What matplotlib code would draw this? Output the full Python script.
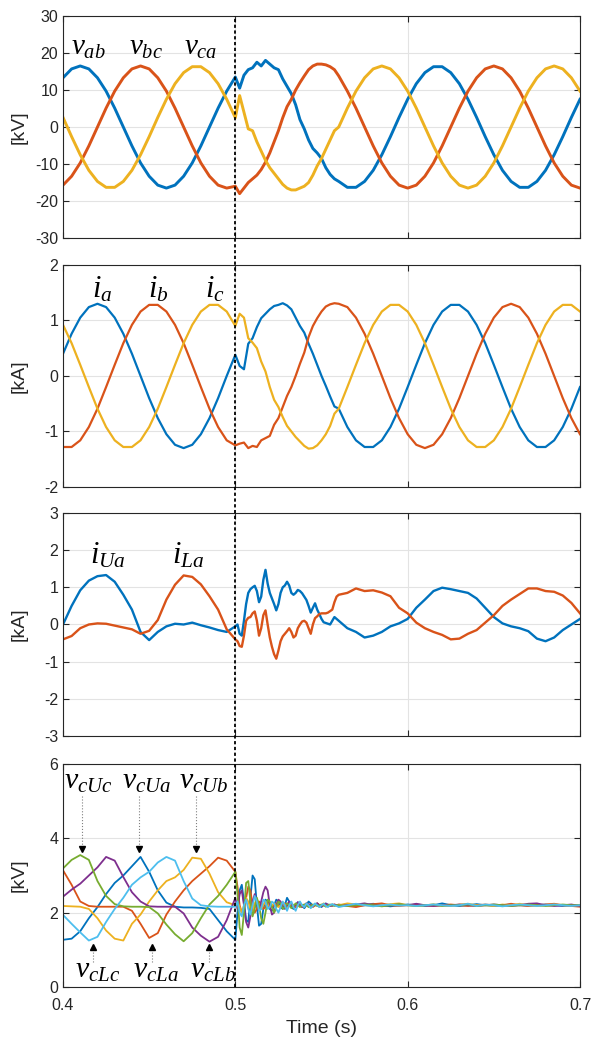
import numpy as np
import matplotlib.pyplot as plt
from matplotlib.lines import Line2D

# time grids [s]; finer sampling around the fault at t = 0.5 s
t_pre = 0.400 + 0.005 * np.arange(20)
t_fast = 0.500 + 0.0025 * np.arange(24)
t_fine = 0.500 + 0.00125 * np.arange(48)
t_post = 0.560 + 0.005 * np.arange(29)

# ---- line-to-line voltages [kV]
vab_pre = [13.3, 15.7, 16.5, 15.7, 13.3, 9.7, 5.1, 0.0, -5.1, -9.7, -13.3, -15.7, -16.5, -15.7, -13.3, -9.7, -5.1, 0.0, 5.1, 9.7]
vab_fast = [13.5, 10.5, 14.0, 15.5, 16.0, 17.5, 16.5, 18.0, 17.0, 16.0, 15.5, 13.0, 11.0, 9.0, 6.0, 2.0, -0.5, -3.5, -5.8, -7.0, -8.5, -11.0, -12.8, -14.0]
vab_post = [-14.7, -16.3, -16.3, -14.7, -11.7, -7.5, -2.6, 2.6, 7.5, 11.7, 14.7, 16.3, 16.3, 14.7, 11.7, 7.5, 2.6, -2.6, -7.5, -11.7, -14.7, -16.3, -16.3, -14.7, -11.7, -7.5, -2.6, 2.6, 7.5]
vbc_pre = [-15.7, -13.3, -9.7, -5.1, 0.0, 5.1, 9.7, 13.3, 15.7, 16.5, 15.7, 13.3, 9.7, 5.1, 0.0, -5.1, -9.7, -13.3, -15.7, -16.5]
vbc_fast = [-16.0, -18.0, -16.5, -15.0, -14.0, -13.0, -11.5, -9.5, -7.0, -4.0, -1.0, 2.5, 5.5, 7.5, 10.0, 12.0, 13.8, 15.5, 16.5, 17.0, 17.0, 16.8, 16.3, 15.5]
vbc_post = [13.8, 9.7, 5.1, 0.0, -5.1, -9.7, -13.3, -15.7, -16.5, -15.7, -13.3, -9.7, -5.1, 0.0, 5.1, 9.7, 13.3, 15.7, 16.5, 15.7, 13.3, 9.7, 5.1, 0.0, -5.1, -9.7, -13.3, -15.7, -16.5]
vca_pre = [2.6, -2.6, -7.5, -11.7, -14.7, -16.3, -16.3, -14.7, -11.7, -7.5, -2.6, 2.6, 7.5, 11.7, 14.7, 16.3, 16.3, 14.7, 11.7, 7.5]
vca_fast = [2.5, 8.5, 4.0, -0.5, -1.0, -4.0, -6.5, -9.0, -11.0, -12.5, -14.0, -15.5, -16.5, -17.0, -17.0, -16.5, -16.0, -15.0, -13.0, -10.5, -8.5, -6.0, -3.5, -1.0]
vca_post = [0.0, 5.1, 9.7, 13.3, 15.7, 16.5, 15.7, 13.3, 9.7, 5.1, 0.0, -5.1, -9.7, -13.3, -15.7, -16.5, -15.7, -13.3, -9.7, -5.1, 0.0, 5.1, 9.7, 13.3, 15.7, 16.5, 15.7, 13.3, 9.7]

# ---- phase currents [kA]
ia_pre = [0.40, 0.76, 1.05, 1.24, 1.30, 1.24, 1.05, 0.76, 0.40, 0.00, -0.40, -0.76, -1.05, -1.24, -1.30, -1.24, -1.05, -0.76, -0.40, 0.00]
ia_fast = [0.38, 0.18, 0.12, 0.58, 0.68, 0.88, 1.04, 1.12, 1.20, 1.26, 1.28, 1.31, 1.27, 1.20, 1.05, 0.90, 0.78, 0.58, 0.40, 0.20, 0.00, -0.18, -0.37, -0.55]
ia_post = [-0.59, -0.92, -1.16, -1.28, -1.28, -1.16, -0.92, -0.59, -0.20, 0.20, 0.59, 0.92, 1.16, 1.28, 1.28, 1.16, 0.92, 0.59, 0.20, -0.20, -0.59, -0.92, -1.16, -1.28, -1.28, -1.16, -0.92, -0.59, -0.20]
ib_pre = [-1.28, -1.28, -1.16, -0.92, -0.59, -0.20, 0.20, 0.59, 0.92, 1.16, 1.28, 1.28, 1.16, 0.92, 0.59, 0.20, -0.20, -0.59, -0.92, -1.16]
ib_fast = [-1.25, -1.22, -1.20, -1.30, -1.26, -1.28, -1.16, -1.12, -1.08, -0.88, -0.76, -0.56, -0.36, -0.20, 0.00, 0.22, 0.42, 0.70, 0.90, 1.04, 1.16, 1.25, 1.29, 1.31]
ib_post = [1.30, 1.24, 1.05, 0.76, 0.40, 0.00, -0.40, -0.76, -1.05, -1.24, -1.30, -1.24, -1.05, -0.76, -0.40, 0.00, 0.40, 0.76, 1.05, 1.24, 1.30, 1.24, 1.05, 0.76, 0.40, 0.00, -0.40, -0.76, -1.05]
ic_pre = [0.92, 0.59, 0.20, -0.20, -0.59, -0.92, -1.16, -1.28, -1.28, -1.16, -0.92, -0.59, -0.20, 0.20, 0.59, 0.92, 1.16, 1.28, 1.28, 1.16]
ic_fast = [0.90, 1.12, 1.05, 0.68, 0.60, 0.50, 0.26, 0.08, -0.20, -0.43, -0.56, -0.74, -0.90, -1.00, -1.10, -1.18, -1.26, -1.31, -1.30, -1.25, -1.16, -1.05, -0.90, -0.68]
ic_post = [-0.59, -0.20, 0.20, 0.59, 0.92, 1.16, 1.28, 1.28, 1.16, 0.92, 0.59, 0.20, -0.20, -0.59, -0.92, -1.16, -1.28, -1.28, -1.16, -0.92, -0.59, -0.20, 0.20, 0.59, 0.92, 1.16, 1.28, 1.28, 1.16]

# ---- arm currents, phase a [kA]
iUa_pre = [0.0, 0.5, 0.92, 1.18, 1.3, 1.33, 1.15, 0.8, 0.4, -0.2, -0.42, -0.2, -0.05, 0.02, 0.0, 0.05, -0.02, -0.08, -0.15, -0.2]
iUa_fine = [-0.05, 0.0, -0.25, -0.3, 0.1, 0.55, 0.85, 0.95, 1.0, 1.04, 0.9, 0.6, 0.75, 1.2, 1.47, 1.1,
            0.85, 0.7, 0.55, 0.38, 0.55, 0.85, 1.0, 1.05, 1.15, 1.05, 0.85, 0.8, 0.85, 0.93, 0.9, 0.84,
            0.75, 0.66, 0.5, 0.32, 0.45, 0.57, 0.4, 0.28, 0.15, 0.06, 0.04, 0.02, 0.0, 0.1, 0.2, 0.15]
iUa_post = [0.1, -0.1, -0.2, -0.35, -0.3, -0.2, -0.05, 0.03, 0.15, 0.45, 0.67, 0.9, 0.99, 0.95, 0.9, 0.85, 0.7, 0.45, 0.2, 0.03, -0.05, -0.1, -0.18, -0.38, -0.45, -0.35, -0.15, 0.0, 0.15]
iLa_pre = [-0.4, -0.31, -0.1, 0.0, 0.03, 0.02, -0.03, -0.08, -0.13, -0.25, -0.17, 0.12, 0.67, 1.07, 1.32, 1.28, 1.08, 0.76, 0.4, -0.13]
iLa_fine = [-0.4, -0.45, -0.58, -0.6, -0.3, 0.1, 0.18, 0.2, 0.3, 0.35, 0.1, -0.3, -0.1, 0.25, 0.38, 0.0,
            -0.35, -0.6, -0.8, -0.92, -0.7, -0.45, -0.32, -0.25, -0.18, -0.1, -0.2, -0.35, -0.3, -0.1, 0.0, 0.08,
            0.1, 0.05, -0.1, -0.25, 0.0, 0.17, 0.22, 0.28, 0.3, 0.3, 0.3, 0.32, 0.36, 0.4, 0.6, 0.75]
iLa_post = [0.8, 0.85, 0.97, 0.9, 0.92, 0.86, 0.76, 0.45, 0.3, 0.05, -0.1, -0.2, -0.28, -0.4, -0.38, -0.25, -0.15, 0.05, 0.25, 0.5, 0.67, 0.82, 0.97, 0.97, 0.9, 0.88, 0.78, 0.58, 0.3]

# ---- SM capacitor voltages [kV]
vcUa_pre = [1.27, 1.3, 1.5, 1.85, 2.15, 2.5, 2.8, 3.0, 3.25, 3.5, 3.1, 2.6, 2.27, 2.16, 2.14, 2.14, 2.13, 2.1, 1.8, 1.5]
vcUa_fine = [1.27, 2.0, 2.6, 2.75, 2.3, 1.8, 1.75, 2.4, 3.0, 2.9, 2.2, 1.65, 1.7, 2.1, 2.35, 2.3,
             2.1, 2.05, 2.2, 2.35, 2.3, 2.15, 2.1, 2.2, 2.4, 2.3, 2.15, 2.1, 2.2, 2.28, 2.25, 2.2,
             2.12, 2.2, 2.3, 2.25, 2.18, 2.2, 2.25, 2.2, 2.15, 2.22, 2.25, 2.2, 2.18, 2.22, 2.2, 2.2]
vcUa_post = [2.2, 2.22, 2.18, 2.2, 2.24, 2.2, 2.17, 2.2, 2.22, 2.2, 2.18, 2.2, 2.25, 2.2, 2.18, 2.2, 2.23, 2.2, 2.18, 2.2, 2.22, 2.2, 2.19, 2.2, 2.22, 2.2, 2.18, 2.2, 2.2]
vcLa_pre = [3.14, 2.75, 2.3, 2.18, 2.16, 2.16, 2.16, 2.16, 2.05, 1.7, 1.32, 1.45, 1.95, 2.3, 2.6, 2.85, 3.05, 3.25, 3.48, 3.4]
vcLa_fine = [3.1, 2.7, 2.2, 2.0, 2.1, 2.4, 2.7, 2.6, 2.2, 2.0, 2.1, 2.3, 2.25, 2.1, 2.15, 2.3,
             2.25, 2.15, 2.2, 2.25, 2.2, 2.15, 2.2, 2.25, 2.2, 2.18, 2.22, 2.2, 2.15, 2.2, 2.25, 2.2,
             2.18, 2.2, 2.22, 2.2, 2.15, 2.2, 2.25, 2.2, 2.18, 2.2, 2.22, 2.2, 2.18, 2.2, 2.22, 2.2]
vcLa_post = [2.22, 2.18, 2.15, 2.2, 2.23, 2.25, 2.2, 2.18, 2.2, 2.22, 2.2, 2.18, 2.2, 2.22, 2.2, 2.18, 2.2, 2.22, 2.2, 2.2, 2.24, 2.2, 2.18, 2.2, 2.22, 2.24, 2.2, 2.18, 2.16]
vcUb_pre = [2.18, 2.17, 2.16, 2.1, 1.85, 1.52, 1.3, 1.25, 1.7, 1.95, 2.3, 2.6, 2.85, 2.95, 3.15, 3.48, 3.45, 3.05, 2.55, 2.28]
vcUb_fine = [2.2, 2.3, 2.15, 2.0, 2.2, 2.4, 2.3, 2.1, 2.05, 2.25, 2.35, 2.2, 2.1, 2.2, 2.3, 2.25,
             2.15, 2.2, 2.25, 2.2, 2.15, 2.2, 2.28, 2.22, 2.15, 2.2, 2.25, 2.2, 2.18, 2.22, 2.2, 2.15,
             2.2, 2.25, 2.2, 2.18, 2.2, 2.22, 2.2, 2.15, 2.2, 2.25, 2.2, 2.18, 2.2, 2.22, 2.2, 2.2]
vcUb_post = [2.2, 2.25, 2.22, 2.2, 2.18, 2.2, 2.23, 2.25, 2.2, 2.18, 2.2, 2.22, 2.2, 2.18, 2.22, 2.24, 2.2, 2.2, 2.18, 2.22, 2.2, 2.24, 2.2, 2.18, 2.2, 2.22, 2.2, 2.2, 2.2]
vcLb_pre = [2.43, 2.62, 2.78, 3.0, 3.22, 3.5, 3.4, 2.96, 2.55, 2.3, 2.17, 2.16, 2.16, 2.16, 1.98, 1.6, 1.38, 1.22, 1.35, 1.8]
vcLb_fine = [2.4, 2.1, 2.5, 2.6, 2.2, 1.75, 1.6, 1.9, 2.3, 2.5, 2.3, 2.1, 2.3, 2.55, 2.7, 2.6,
             2.2, 1.95, 2.0, 2.2, 2.35, 2.3, 2.15, 2.1, 2.2, 2.3, 2.25, 2.15, 2.2, 2.28, 2.2, 2.15,
             2.2, 2.25, 2.22, 2.2, 2.18, 2.22, 2.25, 2.2, 2.18, 2.2, 2.24, 2.22, 2.2, 2.18, 2.22, 2.2]
vcLb_post = [2.18, 2.2, 2.22, 2.25, 2.2, 2.18, 2.2, 2.22, 2.2, 2.24, 2.2, 2.18, 2.2, 2.2, 2.22, 2.2, 2.18, 2.2, 2.22, 2.2, 2.18, 2.2, 2.24, 2.25, 2.2, 2.18, 2.2, 2.22, 2.18]
vcUc_pre = [3.19, 3.42, 3.55, 3.42, 2.85, 2.45, 2.23, 2.17, 2.16, 2.16, 2.15, 1.98, 1.68, 1.42, 1.23, 1.45, 1.85, 2.22, 2.45, 2.75]
vcUc_fine = [3.1, 2.5, 1.6, 1.4, 2.0, 2.8, 2.85, 2.3, 1.9, 2.1, 2.4, 2.2, 1.85, 1.7, 2.0, 2.35,
             2.3, 2.15, 2.0, 2.15, 2.3, 2.25, 2.1, 2.15, 2.25, 2.2, 2.12, 2.18, 2.25, 2.2, 2.15, 2.2,
             2.22, 2.2, 2.15, 2.18, 2.22, 2.2, 2.18, 2.2, 2.22, 2.2, 2.16, 2.2, 2.22, 2.2, 2.18, 2.2]
vcUc_post = [2.2, 2.18, 2.2, 2.22, 2.2, 2.17, 2.2, 2.23, 2.2, 2.18, 2.2, 2.22, 2.18, 2.2, 2.2, 2.22, 2.18, 2.2, 2.22, 2.2, 2.18, 2.2, 2.22, 2.2, 2.18, 2.2, 2.22, 2.2, 2.2]
vcLc_pre = [1.94, 1.7, 1.47, 1.25, 1.35, 1.75, 2.1, 2.4, 2.75, 2.95, 3.1, 3.35, 3.5, 3.4, 2.85, 2.38, 2.2, 2.17, 2.16, 2.16]
vcLc_fine = [2.16, 2.3, 2.0, 1.9, 2.2, 2.35, 2.1, 1.95, 2.2, 2.45, 2.3, 2.05, 2.1, 2.35, 2.3, 2.1,
             2.15, 2.3, 2.25, 2.1, 2.0, 2.15, 2.3, 2.2, 2.05, 2.2, 2.3, 2.15, 2.05, 2.2, 2.3, 2.2,
             2.15, 2.25, 2.2, 2.12, 2.18, 2.25, 2.2, 2.15, 2.2, 2.24, 2.18, 2.15, 2.2, 2.23, 2.2, 2.18]
vcLc_post = [2.15, 2.2, 2.24, 2.2, 2.17, 2.2, 2.22, 2.19, 2.2, 2.18, 2.2, 2.22, 2.2, 2.18, 2.2, 2.24, 2.18, 2.22, 2.2, 2.17, 2.2, 2.22, 2.2, 2.18, 2.2, 2.22, 2.2, 2.18, 2.2]

colors = ['#0072BD', '#D95319', '#EDB120', '#7E2F8E', '#77AC30', '#4DBEEE']


def join(*parts):
    return np.concatenate([np.asarray(p, dtype=float) for p in parts])


t12 = join(t_pre, t_fast, t_post)
t34 = join(t_pre, t_fine, t_post)

plt.rcParams['font.family'] = ['Liberation Sans', 'DejaVu Sans']
plt.rcParams['mathtext.fontset'] = 'custom'
plt.rcParams['mathtext.it'] = 'Liberation Serif:italic'
plt.rcParams['mathtext.rm'] = 'Liberation Serif'
plt.rcParams['axes.unicode_minus'] = False

fig = plt.figure(figsize=(5.91, 10.45), dpi=100)
rects = [[0.1066, 0.7722, 0.8748, 0.2125],
         [0.1066, 0.5340, 0.8748, 0.2125],
         [0.1066, 0.2957, 0.8748, 0.2134],
         [0.1066, 0.0555, 0.8748, 0.2134]]
axs = [fig.add_axes(r) for r in rects]
dark = '#262626'


def style(ax, yt, ylab, bottom=False):
    ax.set_xlim(0.4, 0.7)
    ax.set_ylim(yt[0], yt[-1])
    ax.set_yticks(yt)
    ax.set_xticks([0.4, 0.5, 0.6, 0.7])
    ax.grid(True, color='#e3e3e3', lw=0.8)
    ax.set_axisbelow(True)
    ax.tick_params(direction='in', top=True, right=True, length=4, width=0.8,
                   labelsize=11.5, colors=dark)
    ax.tick_params(axis='x', pad=8)
    for s in ax.spines.values():
        s.set_color(dark)
        s.set_linewidth(0.8)
    if not bottom:
        ax.tick_params(labelbottom=False)
    else:
        ax.set_xticklabels(['0.4', '0.5', '0.6', '0.7'])
        ax.set_xlabel('Time (s)', fontsize=14, color=dark, labelpad=5)
    ax.set_ylabel(ylab, fontsize=14, color=dark)
    ax.yaxis.set_label_coords(-0.068, 0.5)


# panel 1
ax = axs[0]
ax.plot(t12, join(vab_pre, vab_fast, vab_post), color=colors[0], lw=2.1)
ax.plot(t12, join(vbc_pre, vbc_fast, vbc_post), color=colors[1], lw=2.1)
ax.plot(t12, join(vca_pre, vca_fast, vca_post), color=colors[2], lw=2.1)
style(ax, [-30, -20, -10, 0, 10, 20, 30], '[kV]')
for txt, x in [(r'$v_{ab}$', 0.4145), (r'$v_{bc}$', 0.448), (r'$v_{ca}$', 0.4797)]:
    ax.text(x, 21.5, txt, fontsize=21, ha='center', va='center')

# panel 2
ax = axs[1]
ax.plot(t12, join(ia_pre, ia_fast, ia_post), color=colors[0], lw=1.6)
ax.plot(t12, join(ib_pre, ib_fast, ib_post), color=colors[1], lw=1.6)
ax.plot(t12, join(ic_pre, ic_fast, ic_post), color=colors[2], lw=1.6)
style(ax, [-2, -1, 0, 1, 2], '[kA]')
for txt, x in [(r'$i_a$', 0.4225), (r'$i_b$', 0.455), (r'$i_c$', 0.488)]:
    ax.text(x, 1.56, txt, fontsize=22, ha='center', va='center')

# panel 3
ax = axs[2]
ax.plot(t34, join(iUa_pre, iUa_fine, iUa_post), color=colors[0], lw=1.7)
ax.plot(t34, join(iLa_pre, iLa_fine, iLa_post), color=colors[1], lw=1.7)
style(ax, [-3, -2, -1, 0, 1, 2, 3], '[kA]')
ax.text(0.426, 1.85, r'$i_{Ua}$', fontsize=22, ha='center', va='center')
ax.text(0.4727, 1.85, r'$i_{La}$', fontsize=22, ha='center', va='center')

# panel 4
ax = axs[3]
series4 = [(vcUa_pre, vcUa_fine, vcUa_post), (vcLa_pre, vcLa_fine, vcLa_post),
           (vcUb_pre, vcUb_fine, vcUb_post), (vcLb_pre, vcLb_fine, vcLb_post),
           (vcUc_pre, vcUc_fine, vcUc_post), (vcLc_pre, vcLc_fine, vcLc_post)]
for i, s in enumerate(series4):
    ax.plot(t34, join(*s), color=colors[i], lw=1.3)
style(ax, [0, 2, 4, 6], '[kV]', bottom=True)

upper = [(r'$v_{cUc}$', 0.4147, 0.4109), (r'$v_{cUa}$', 0.4488, 0.4442), (r'$v_{cUb}$', 0.4814, 0.4771)]
lower = [(r'$v_{cLc}$', 0.4200, 0.4176), (r'$v_{cLa}$', 0.4540, 0.4516), (r'$v_{cLb}$', 0.4870, 0.4850)]
for txt, xt, xa in upper:
    ax.text(xt, 5.55, txt, fontsize=21.5, ha='center', va='center')
    ax.plot([xa, xa], [5.15, 3.75], ls=':', color='0.5', lw=0.8)
    ax.plot(xa, 3.7, marker='v', color='k', ms=5)
for txt, xt, xa in lower:
    ax.text(xt, 0.45, txt, fontsize=21.5, ha='center', va='center')
    ax.plot([xa, xa], [0.68, 1.05], ls=':', color='0.5', lw=0.8)
    ax.plot(xa, 1.08, marker='^', color='k', ms=5)

# fault instant: dotted line across all panels
x0 = fig.transFigure.inverted().transform(axs[3].transData.transform((0.5, 0)))[0]
fig.add_artist(Line2D([x0, x0], [rects[3][1], rects[0][1] + rects[0][3]],
                      transform=fig.transFigure, color='k', lw=1.3,
                      linestyle=(0, (1.8, 1.4))))

fig.savefig('out.png', dpi=100)
